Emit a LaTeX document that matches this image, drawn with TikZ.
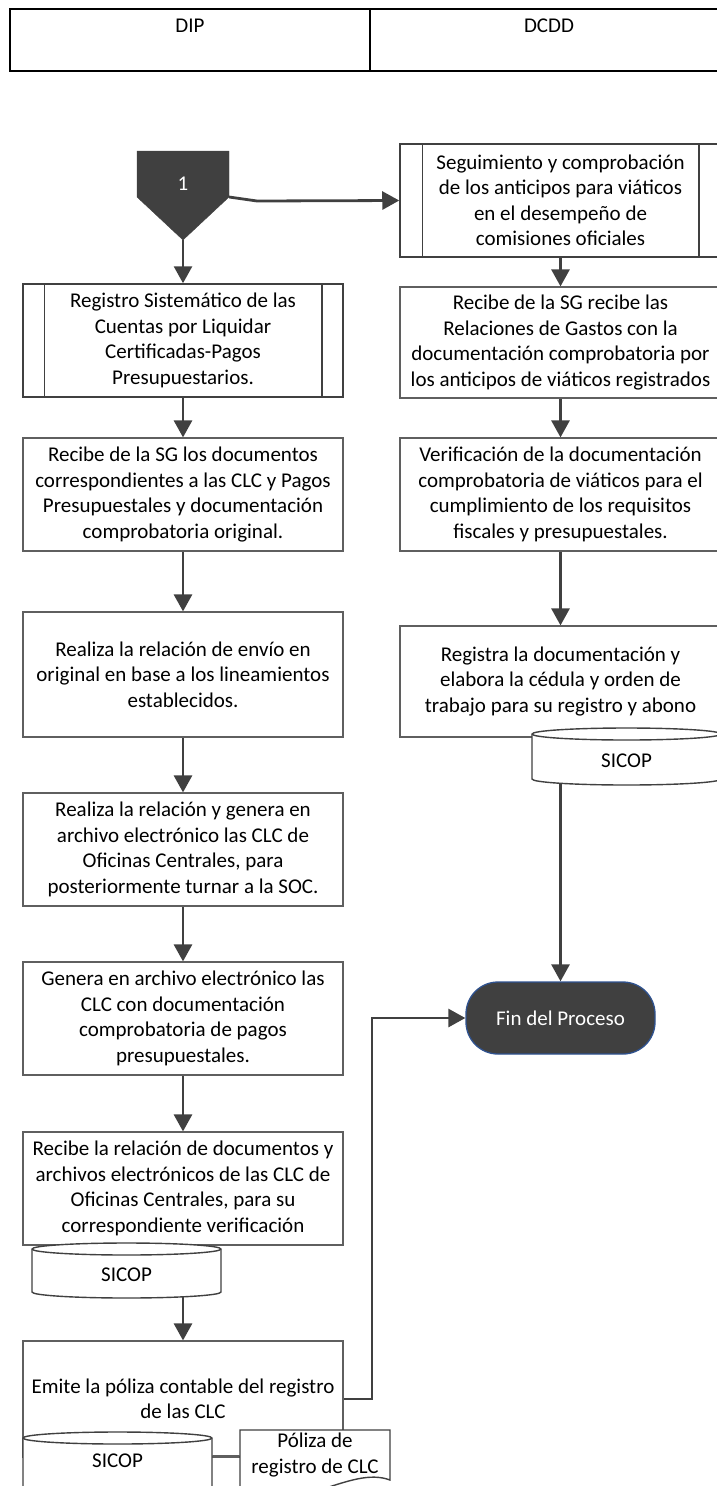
\documentclass[tikz,border=0pt]{standalone}
\usepackage{fontspec}
\setmainfont{Carlito}
\usetikzlibrary{arrows.meta,backgrounds}

\definecolor{ink}{HTML}{404040}
\definecolor{rim}{HTML}{5F5F5F}
\definecolor{finrim}{HTML}{2F528F}
\newcommand\boxfont{\fontsize{21}{25.5}\selectfont}

% cylinder outline: left x, top y, right x, bottom y
\newcommand\drumshape[4]{%
  \filldraw[drum] (#1,#2+6) -- (#1,#4-6)
    arc[start angle=180,end angle=360,x radius={(#3-#1)/2*1pt},y radius=6pt]
    -- (#3,#2+6)
    arc[start angle=0,end angle=180,x radius={(#3-#1)/2*1pt},y radius=6pt] -- cycle;
  \draw[drum] (#1,#2+6)
    arc[start angle=180,end angle=360,x radius={(#3-#1)/2*1pt},y radius=6pt];
}

\tikzset{
  flow/.style={draw=ink, line width=2.8pt, -{Triangle[length=17pt,width=18pt]}},
  procbox/.style={draw=rim, line width=1.2pt, fill=white, inner sep=0pt,
    align=center, font=\boxfont, text=black},
  leftbox/.style={procbox, minimum width=320pt, minimum height=113pt},
  rightbox/.style={procbox, minimum width=321pt, minimum height=113pt},
  subproc/.style={draw=ink, line width=1.5pt},
  drum/.style={draw=ink, line width=1.4pt, fill=white},
  label/.style={inner sep=0pt, font=\boxfont, text=black, align=center},
}

\begin{document}
\begin{tikzpicture}[x=1pt,y=-1pt]
\useasboundingbox (0,0) rectangle (717,1486);

% header with the two lanes
\draw[black, line width=2pt] (10,9) rectangle (728,71);
\draw[black, line width=2pt] (370,9) -- (370,71);
\node[label] (hdip) at (190,26) {DIP};
\node[label] (hdcdd) at (549,26) {DCDD};

% off-page connector 1
\filldraw[fill=ink, draw=ink] (137,151) -- (229,151) -- (229,197) -- (183,240) -- (137,197) -- cycle;
\node[label, text=white] (c1) at (183,184) {1};
\coordinate (c1r) at (229,197);
\coordinate (c1b) at (183,240);
\coordinate (c1k) at (257,201);

% DIP lane
\node[leftbox, draw=ink, line width=1.5pt] (l1) at (183,340.5)
  {Registro Sistemático de las\\Cuentas por Liquidar\\Certificadas-Pagos\\Presupuestarios.};
\draw[subproc] ([xshift=22pt]l1.north west) -- ([xshift=22pt]l1.south west);
\draw[subproc] ([xshift=-22pt]l1.north east) -- ([xshift=-22pt]l1.south east);

\node[leftbox] (l2) at (183,494.5)
  {Recibe de la SG los documentos\\correspondientes a las CLC y Pagos\\Presupuestales y documentación\\comprobatoria original.};
\node[leftbox, minimum height=125pt] (l3) at (183,674.5)
  {Realiza la relación de envío en\\original en base a los lineamientos\\establecidos.};
\node[leftbox] (l4) at (183,849.5)
  {Realiza la relación y genera en\\archivo electrónico las CLC de\\Oficinas Centrales, para\\posteriormente turnar a la SOC.};
\node[leftbox] (l5) at (183,1018.5)
  {Genera en archivo electrónico las\\CLC con documentación\\comprobatoria de pagos\\presupuestales.};
\node[leftbox] (l6) at (183,1188.5)
  {Recibe la relación de documentos y\\archivos electrónicos de las CLC de\\Oficinas Centrales, para su\\correspondiente verificación};
\drumshape{32}{1243}{221}{1298}
\node[label] (db1) at (126.5,1275) {SICOP};

\node[leftbox, minimum height=116pt] (l7) at (183,1399)
  {Emite la póliza contable del registro\\de las CLC};
\coordinate (bend) at (372,1399);
\drumshape{23}{1432}{212}{1510}
\node[label] (db2) at (117.5,1461) {SICOP};
\filldraw[drum] (240,1430) -- (390,1430) -- (390,1480)
  .. controls (350,1465) and (300,1515) .. (240,1492) -- cycle;
\node[label] (doc) at (315,1455) {Póliza de\\registro de CLC};
\coordinate (db2e) at (212,1455);
\coordinate (docw) at (240,1455);
\draw[draw=rim, line width=0.8pt] (db2e) -- (docw);

% DCDD lane
\node[rightbox, draw=ink, line width=1.5pt] (r0) at (560.5,200.5)
  {Seguimiento y comprobación\\de los anticipos para viáticos\\en el desempeño de\\comisiones oficiales};
\draw[subproc] ([xshift=23pt]r0.north west) -- ([xshift=23pt]r0.south west);
\draw[subproc] ([xshift=-23pt]r0.north east) -- ([xshift=-23pt]r0.south east);

\node[rightbox, minimum height=111pt] (r1) at (560.5,342.5)
  {Recibe de la SG recibe las\\Relaciones de Gastos con la\\documentación comprobatoria por\\los anticipos de viáticos registrados};
\node[rightbox] (r2) at (560.5,494.5)
  {Verificación de la documentación\\comprobatoria de viáticos para el\\cumplimiento de los requisitos\\fiscales y presupuestales.};
\node[rightbox, minimum height=111pt] (r3) at (560.5,681.5)
  {Registra la documentación y\\elabora la cédula y orden de\\trabajo para su registro y abono};
\drumshape{532}{728}{721}{785}
\node[label] (db3) at (626.5,761) {SICOP};

\node[draw=finrim, fill=ink, line width=1.3pt, rounded corners=32pt,
  minimum width=189pt, minimum height=72pt, font=\boxfont, text=white] (fin)
  at (560.5,1018) {Fin del Proceso};

% connectors
\begin{scope}[on background layer]
\draw[flow] (c1b) -- (l1.north);
\draw[flow] (c1r) -- (c1k) -- (r0.west);
\draw[flow] (l1.south) -- (l2.north);
\draw[flow] (l2.south) -- (l3.north);
\draw[flow] (l3.south) -- (l4.north);
\draw[flow] (l4.south) -- (l5.north);
\draw[flow] (l5.south) -- (l6.north);
\draw[flow] (l6.south) -- (l7.north);
\draw[flow] (l7.east) -- (bend) |- (fin.west);
\draw[flow] (r0.south) -- (r1.north);
\draw[flow] (r1.south) -- (r2.north);
\draw[flow] (r2.south) -- (r3.north);
\draw[flow] (r3.south) -- (fin.north);
\end{scope}
\end{tikzpicture}
\end{document}
